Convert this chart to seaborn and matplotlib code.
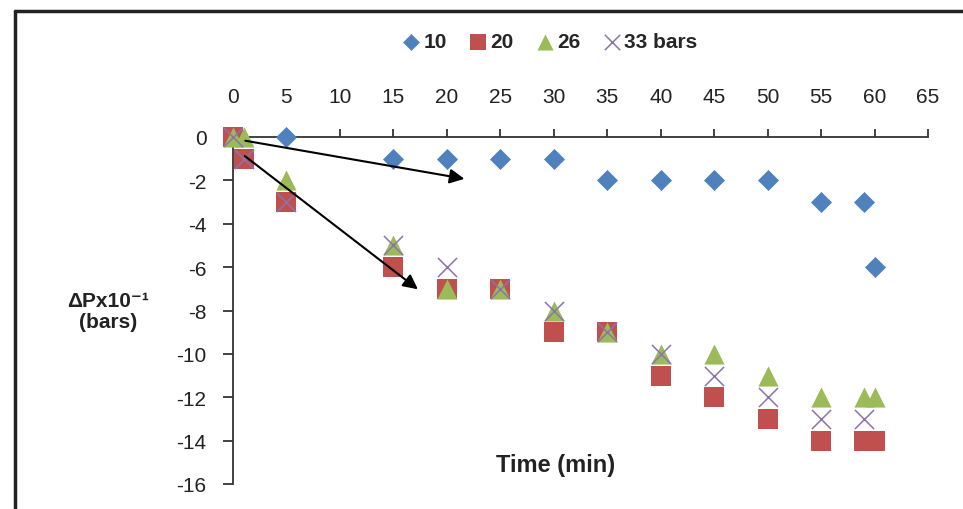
import matplotlib
matplotlib.use("Agg")
import matplotlib.pyplot as plt
from matplotlib.lines import Line2D
import seaborn as sns
import pandas as pd

# pressure drop (x10^-1 bars) vs time (min), one series per pressure
t_10 = [0, 5, 15, 20, 25, 30, 35, 40, 45, 50, 55, 59, 60]
dp_10 = [0, 0, -1, -1, -1, -1, -2, -2, -2, -2, -3, -3, -6]

t_20 = [0, 1, 5, 15, 20, 25, 30, 35, 40, 45, 50, 55, 59, 60]
dp_20 = [0, -1, -3, -6, -7, -7, -9, -9, -11, -12, -13, -14, -14, -14]

t_26 = [0, 1, 5, 15, 20, 25, 30, 35, 40, 45, 50, 55, 59, 60]
dp_26 = [0, 0, -2, -5, -7, -7, -8, -9, -10, -10, -11, -12, -12, -12]

t_33 = [0, 1, 5, 15, 20, 25, 30, 35, 40, 45, 50, 55, 59]
dp_33 = [0, -1, -3, -5, -6, -7, -8, -9, -10, -11, -12, -13, -13]

labels = ["10", "20", "26", "33 bars"]
x_ticks = list(range(0, 70, 5))
y_ticks = list(range(-16, 1, 2))

sns.set_style("white")
plt.rcParams['font.family'] = ['Liberation Sans', 'DejaVu Sans']
plt.rcParams['axes.unicode_minus'] = False

fig = plt.figure(figsize=(9.63, 5.10), dpi=100)
ax = fig.add_axes([233 / 963, 1 - 485 / 510, (928 - 233) / 963, (485 - 138) / 510])

series = [
    (t_10, dp_10, 'D', 115, '#4F81BD', 0),
    (t_20, dp_20, 's', 200, '#C0504D', 0),
    (t_26, dp_26, '^', 210, '#9BBB59', 0),
    (t_33, dp_33, 'x', 190, '#8C73B0', 1.1),
]
for (tt, dp, mk, size, col, lw), lab in zip(series, labels):
    df = pd.DataFrame({'t': tt, 'dp': dp})
    sns.scatterplot(data=df, x='t', y='dp', marker=mk, s=size, color=col,
                    linewidth=lw, ax=ax, label=lab, clip_on=False, zorder=3)

# arrows
ax.annotate('', xy=(21.9, -1.95), xytext=(0.9, -0.15),
            arrowprops=dict(arrowstyle='-|>', color='black', lw=1.5, mutation_scale=22))
ax.annotate('', xy=(17.5, -7.1), xytext=(0.9, -0.8),
            arrowprops=dict(arrowstyle='-|>', color='black', lw=1.5, mutation_scale=22))

ax.set_xlim(0, 65)
ax.set_ylim(-16, 0)
ax.set_xticks(x_ticks)
ax.set_yticks(y_ticks)
ax.xaxis.tick_top()
ax.tick_params(axis='x', top=True, direction='out', length=6, width=1.2, pad=16,
               labelsize=15, colors='#222222')
ax.tick_params(axis='y', left=True, direction='out', length=7, width=1.2, pad=12,
               labelsize=15, colors='#222222')
for side in ['bottom', 'right']:
    ax.spines[side].set_visible(False)
for side in ['top', 'left']:
    ax.spines[side].set_color('#333333')
    ax.spines[side].set_linewidth(1.3)
ax.set_xlabel('')
ax.set_ylabel('')
ax.grid(False)

leg = ax.legend(loc='center', bbox_to_anchor=(548 / 963, 1 - 43 / 510),
                bbox_transform=fig.transFigure, ncol=4, frameon=False,
                handletextpad=0.0, columnspacing=0.9, handlelength=1.2,
                prop={'weight': 'bold', 'size': 15}, markerscale=0.8)

fig.text(108 / 963, 1 - 312 / 510, 'ΔPx10⁻¹\n(bars)', ha='center', va='center',
         fontsize=15, fontweight='bold', color='#222222', linespacing=1.1)
fig.text(556 / 963, 1 - 466 / 510, 'Time (min)', ha='center', va='center',
         fontsize=17, fontweight='bold', color='#222222')

# outer frame (cropped at right/bottom)
fig.add_artist(Line2D([15 / 963, 1.0], [1 - 12 / 510, 1 - 12 / 510],
                      transform=fig.transFigure, color='#222222', lw=2.5))
fig.add_artist(Line2D([15 / 963, 15 / 963], [1 - 12 / 510, 0.0],
                      transform=fig.transFigure, color='#222222', lw=2.5))

fig.savefig('out.png', dpi=100)
